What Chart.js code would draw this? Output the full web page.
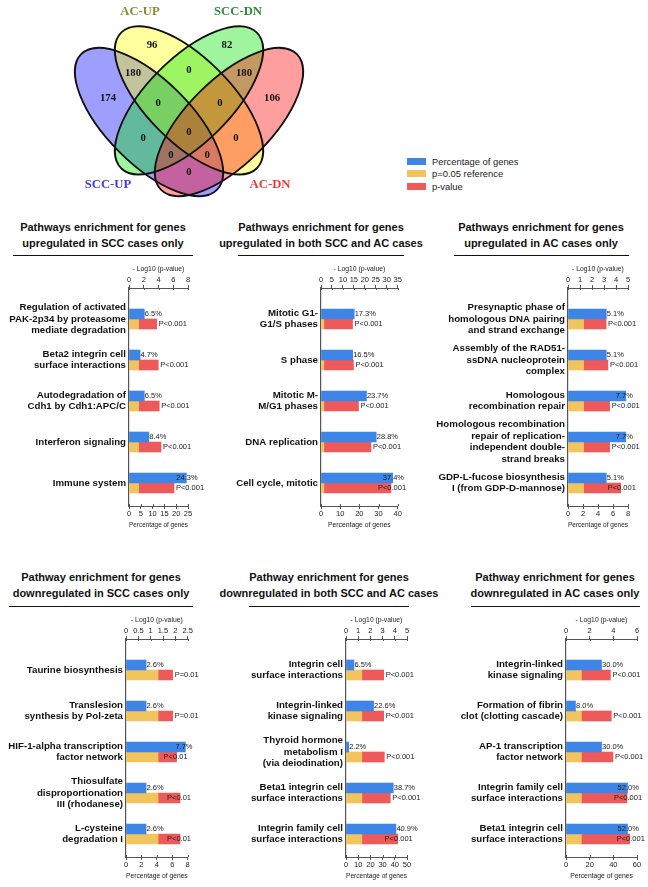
<!DOCTYPE html>
<html>
<head>
<meta charset="utf-8">
<title>Venn and pathway enrichment</title>
<script src="https://cdn.jsdelivr.net/npm/chart.js"></script>
<style>
    body { margin: 0; background: #fff; font-family: "Liberation Sans", Arial, sans-serif; }
    #page { position: relative; width: 648px; height: 887px; overflow: hidden; }
    canvas, .title, .rule, .legend { position: absolute; }
    .title { width: 240px; text-align: center; font-weight: bold; font-size: 11px; line-height: 16px; color: #111; white-space: nowrap; }
    .rule { height: 0; border-top: 1.5px solid #111; }
    .legend { left: 407px; top: 155px; font-size: 9.4px; color: #222; }
    .legend div { display: flex; align-items: center; height: 12.5px; white-space: nowrap; }
    .legend span { display: inline-block; width: 19px; height: 7px; margin-right: 6px; }
</style>
</head>
<body>
<div id="page">
    <canvas id="venn" width="330" height="210" style="left:0;top:0"></canvas>

    <div class="legend">
        <div><span style="background:#3d85e6"></span>Percentage of genes</div>
        <div><span style="background:#f2c45e"></span>p=0.05 reference</div>
        <div><span style="background:#ee5a5a"></span>p-value</div>
    </div>

    <div class="title" style="left:-17px;top:219px">Pathways enrichment for genes<br>upregulated in SCC cases only</div>
    <div class="title" style="left:201px;top:219px">Pathways enrichment for genes<br>upregulated in both SCC and AC cases</div>
    <div class="title" style="left:421px;top:219px">Pathways enrichment for genes<br>upregulated in AC cases only</div>
    <div class="title" style="left:-19px;top:569px">Pathway enrichment for genes<br>downregulated in SCC cases only</div>
    <div class="title" style="left:209px;top:569px">Pathway enrichment for genes<br>downregulated in both SCC and AC cases</div>
    <div class="title" style="left:435px;top:569px">Pathway enrichment for genes<br>downregulated in AC cases only</div>

    <div class="rule" style="left:13px;width:180px;top:255px"></div>
    <div class="rule" style="left:238px;width:166px;top:255px"></div>
    <div class="rule" style="left:454px;width:175px;top:255px"></div>
    <div class="rule" style="left:9px;width:184px;top:606px"></div>
    <div class="rule" style="left:249px;width:160px;top:606px"></div>
    <div class="rule" style="left:471px;width:169px;top:606px"></div>

    <canvas id="p1" width="216" height="270" style="left:0;top:261px"></canvas>
    <canvas id="p2" width="216" height="270" style="left:216px;top:261px"></canvas>
    <canvas id="p3" width="216" height="270" style="left:432px;top:261px"></canvas>
    <canvas id="p4" width="216" height="270" style="left:0;top:612px"></canvas>
    <canvas id="p5" width="216" height="270" style="left:216px;top:612px"></canvas>
    <canvas id="p6" width="216" height="270" style="left:432px;top:612px"></canvas>
</div>
<script>
    // ---- Venn counts ----
    var vennSetNames = ['AC-UP', 'SCC-DN', 'SCC-UP', 'AC-DN'];
    var vennCounts = [96, 82, 180, 180, 174, 106, 0, 0, 0, 0, 0, 0, 0, 0, 0];

    // where each count sits (unit square, y up)
    var vennCountPos = [
        [0.357, 0.767], [0.647, 0.767], [0.283, 0.658], [0.713, 0.658],
        [0.186, 0.561], [0.822, 0.561], [0.5, 0.670], [0.380, 0.542],
        [0.620, 0.542], [0.5, 0.429], [0.322, 0.406], [0.682, 0.406],
        [0.430, 0.340], [0.570, 0.340], [0.5, 0.274]
    ];
    var vennNamePos = [[0.310, 0.895], [0.690, 0.895], [0.186, 0.224], [0.814, 0.224]];
    var vennNameColor = ['#8c8c30', '#2f8c3a', '#3b3be6', '#e63b3b'];

    // ellipses: SCC-UP, AC-UP, SCC-DN, AC-DN
    var vennEllipses = [
        {cx: 0.345, cy: 0.468, a: 0.372, b: 0.163, rot: Math.PI / 4, fill: 'rgba(0,0,255,0.38)'},
        {cx: 0.50, cy: 0.552, a: 0.372, b: 0.163, rot: Math.PI / 4, fill: 'rgba(255,255,0,0.38)'},
        {cx: 0.50, cy: 0.552, a: 0.372, b: 0.163, rot: -Math.PI / 4, fill: 'rgba(0,230,0,0.38)'},
        {cx: 0.655, cy: 0.468, a: 0.372, b: 0.163, rot: -Math.PI / 4, fill: 'rgba(255,0,0,0.38)'}
    ];

    // ---- pathway panels ----
    var pRef = 1.3; // -log10(0.05)

    var sccUpPathways = [['Regulation of activated', 'PAK-2p34 by proteasome', 'mediate degradation'],
        ['Beta2 integrin cell', 'surface interactions'], ['Autodegradation of', 'Cdh1 by Cdh1:APC/C'],
        'Interferon signaling', 'Immune system'];
    var sccUpPct = [6.5, 4.7, 6.5, 8.4, 24.3];
    var sccUpLogP = [3.75, 3.97, 4.1, 4.34, 6.1];
    var sccUpPText = ['P<0.001', 'P<0.001', 'P<0.001', 'P<0.001', 'P<0.001'];

    var bothUpPathways = [['Mitotic G1-', 'G1/S phases'], 'S phase', ['Mitotic M-', 'M/G1 phases'],
        'DNA replication', 'Cell cycle, mitotic'];
    var bothUpPct = [17.3, 16.5, 23.7, 28.8, 37.4];
    var bothUpLogP = [14.4, 14.8, 17.1, 22.8, 31.9];
    var bothUpPText = ['P<0.001', 'P<0.001', 'P<0.001', 'P<0.001', 'P<0.001'];

    var acUpPathways = [['Presynaptic phase of', 'homologous DNA pairing', 'and strand exchange'],
        ['Assembly of the RAD51-', 'ssDNA nucleoprotein', 'complex'],
        ['Homologous', 'recombination repair'],
        ['Homologous recombination', 'repair of replication-', 'independent double-', 'strand breaks'],
        ['GDP-L-fucose biosynthesis', 'I (from GDP-D-mannose)']];
    var acUpPct = [5.1, 5.1, 7.7, 7.7, 5.1];
    var acUpLogP = [3.17, 3.33, 3.47, 3.47, 4.39];
    var acUpPText = ['P<0.001', 'P<0.001', 'P<0.001', 'P<0.001', 'P<0.001'];

    var sccDnPathways = ['Taurine biosynthesis', ['Translesion', 'synthesis by Pol-zeta'],
        ['HIF-1-alpha transcription', 'factor network'],
        ['Thiosulfate', 'disproportionation', 'III (rhodanese)'], ['L-cysteine', 'degradation I']];
    var sccDnPct = [2.6, 2.6, 7.7, 2.6, 2.6];
    var sccDnLogP = [1.89, 1.89, 2.05, 2.19, 2.19];
    var sccDnPText = ['P=0.01', 'P=0.01', 'P<0.01', 'P<0.01', 'P<0.01'];

    var bothDnPathways = [['Integrin cell', 'surface interactions'], ['Integrin-linked', 'kinase signaling'],
        ['Thyroid hormone', 'metabolism I', '(via deiodination)'],
        ['Beta1 integrin cell', 'surface interactions'], ['Integrin family cell', 'surface interactions']];
    var bothDnPct = [6.5, 22.6, 2.2, 38.7, 40.9];
    var bothDnLogP = [3.09, 3.09, 3.14, 3.63, 4.23];
    var bothDnPText = ['P<0.001', 'P<0.001', 'P<0.001', 'P<0.001', 'P<0.001'];

    var acDnPathways = [['Integrin-linked', 'kinase signaling'], ['Formation of fibrin', 'clot (clotting cascade)'],
        ['AP-1 transcription', 'factor network'], ['Integrin family cell', 'surface interactions'],
        ['Beta1 integrin cell', 'surface interactions']];
    var acDnPct = [30.0, 8.0, 30.0, 52.0, 52.0];
    var acDnLogP = [3.75, 3.83, 3.97, 5.15, 5.38];
    var acDnPText = ['P<0.001', 'P<0.001', 'P<0.001', 'P<0.001', 'P<0.001'];

    // axis ticks, panel order p1..p6
    var topAxisMax = [8, 35, 5, 2.5, 5, 6];
    var topAxisStep = [2, 5, 1, 0.5, 1, 2];
    var bottomAxisMax = [25, 40, 8, 8, 50, 60];
    var bottomAxisStep = [5, 10, 2, 2, 10, 20];

    // plot box inside each 216px wide canvas
    var axisLeft = [129, 105, 136, 126, 130, 134];
    var axisRight = [188, 181.7, 196, 187.7, 191, 205];

    var BLUE = '#3d85e6', YELLOW = '#f2c45e', RED = '#ee5a5a';
    var SANS = '"Liberation Sans", Arial, sans-serif';
    Chart.defaults.font.family = SANS;
    Chart.defaults.color = '#222';

    // Venn drawing
    const vennPlugin = {
        id: 'venn',
        beforeDatasetsDraw(chart) {
            const {ctx, scales: {x, y}} = chart;
            const k = x.getPixelForValue(1) - x.getPixelForValue(0);
            ctx.save();
            vennEllipses.forEach(e => {
                ctx.beginPath();
                ctx.ellipse(x.getPixelForValue(e.cx), y.getPixelForValue(e.cy), e.a * k, e.b * k, e.rot, 0, 2 * Math.PI);
                ctx.fillStyle = e.fill;
                ctx.fill();
            });
            ctx.lineWidth = 1.8;
            ctx.strokeStyle = '#111';
            vennEllipses.forEach(e => {
                ctx.beginPath();
                ctx.ellipse(x.getPixelForValue(e.cx), y.getPixelForValue(e.cy), e.a * k, e.b * k, e.rot, 0, 2 * Math.PI);
                ctx.stroke();
            });
            ctx.restore();
        },
        afterDatasetsDraw(chart) {
            const ctx = chart.ctx;
            ctx.save();
            ctx.textAlign = 'center';
            ctx.textBaseline = 'middle';
            ctx.fillStyle = '#111';
            ctx.font = 'bold 10.7px "Liberation Serif", "Times New Roman", serif';
            chart.getDatasetMeta(0).data.forEach((pt, i) => {
                ctx.fillText(String(vennCounts[i]), pt.x, pt.y);
            });
            ctx.font = 'bold 12.7px "Liberation Serif", "Times New Roman", serif';
            chart.getDatasetMeta(1).data.forEach((pt, i) => {
                ctx.fillStyle = vennNameColor[i];
                ctx.fillText(vennSetNames[i], pt.x, pt.y);
            });
            ctx.restore();
        }
    };

    new Chart(document.getElementById('venn'), {
        type: 'scatter',
        data: {
            datasets: [
                {data: vennCountPos.map(p => ({x: p[0], y: p[1]})), pointRadius: 0},
                {data: vennNamePos.map(p => ({x: p[0], y: p[1]})), pointRadius: 0}
            ]
        },
        options: {
            animation: false, responsive: false, events: [],
            layout: {padding: 0},
            plugins: {legend: {display: false}, tooltip: {enabled: false}},
            scales: {
                x: {type: 'linear', display: false, min: -0.2326, max: 1.0465},
                y: {type: 'linear', display: false, min: 0.1271, max: 0.9411}
            }
        },
        plugins: [vennPlugin]
    });

    // value labels next to the bars
    const barLabels = {
        id: 'barLabels',
        afterDatasetsDraw(chart, args, opts) {
            const ctx = chart.ctx;
            const xb = chart.scales.xb, xt = chart.scales.xt;
            ctx.save();
            ctx.font = '7.5px ' + SANS;
            ctx.fillStyle = '#222';
            ctx.textAlign = 'left';
            ctx.textBaseline = 'middle';
            chart.getDatasetMeta(0).data.forEach((bar, i) => {
                const v = chart.data.datasets[0].data[i].x;
                const x = v / xb.max > 0.85 ? bar.x - 10 : bar.x + 0.5;
                ctx.fillText(v.toFixed(1) + '%', x, bar.y);
            });
            chart.getDatasetMeta(2).data.forEach((bar, i) => {
                const v = chart.data.datasets[2].data[i].x[1];
                const x = v / xt.max > 0.8 ? bar.x - 13 : bar.x + 2;
                ctx.fillText(opts.texts[i], x, bar.y);
            });
            ctx.restore();
        }
    };

    // Prism style: tick marks also poke a little into the plot
    const innerTicks = {
        id: 'innerTicks',
        afterDraw(chart) {
            const ctx = chart.ctx;
            const area = chart.chartArea;
            ctx.save();
            ctx.strokeStyle = '#555';
            ctx.lineWidth = 1;
            ['xt', 'xb'].forEach(id => {
                const s = chart.scales[id];
                const y0 = id === 'xt' ? area.top : area.bottom;
                const dir = id === 'xt' ? 1 : -1;
                s.ticks.forEach(t => {
                    const px = Math.round(s.getPixelForValue(t.value)) + 0.5;
                    ctx.beginPath();
                    ctx.moveTo(px, y0);
                    ctx.lineTo(px, y0 + dir * 2);
                    ctx.stroke();
                });
            });
            ctx.restore();
        }
    };

    function tickText(v) {
        return String(+v.toFixed(2));
    }

    function makePanel(id, n, pathways, pct, logp, ptext) {
        const axisBorder = {display: true, color: '#555', width: 1};
        const tickFont = {size: 7.5, lineHeight: 1};
        new Chart(document.getElementById(id), {
            type: 'bar',
            data: {
                datasets: [
                    {label: 'Percentage of genes', data: pct.map((v, i) => ({x: v, y: i})),
                        xAxisID: 'xb', stack: 'pct', backgroundColor: BLUE},
                    {label: 'p=0.05 reference', data: logp.map((v, i) => ({x: pRef, y: i})),
                        xAxisID: 'xt', stack: 'p', backgroundColor: YELLOW},
                    {label: 'p-value', data: logp.map((v, i) => ({x: [pRef, v], y: i})),
                        xAxisID: 'xt', stack: 'p', backgroundColor: RED}
                ]
            },
            options: {
                indexAxis: 'y',
                animation: false, responsive: false, events: [],
                datasets: {bar: {barThickness: 10}},
                layout: {padding: {left: 0, top: 0, bottom: 0, right: 216 - axisRight[n]}},
                plugins: {legend: {display: false}, tooltip: {enabled: false}, barLabels: {texts: ptext}},
                scales: {
                    y: {
                        type: 'linear', reverse: true, offset: false, min: -31 / 41, max: 4 + 23 / 41,
                        afterBuildTicks: s => { s.ticks = pathways.map((p, i) => ({value: i})); },
                        afterFit: s => { s.width = axisLeft[n]; },
                        grid: {display: false, drawTicks: false, offset: false},
                        border: {display: true, color: '#555', width: 1.2},
                        ticks: {autoSkip: false, padding: 3, color: '#111',
                            font: {size: 9.7, weight: 'bold', lineHeight: 1.2},
                            callback: v => pathways[v]}
                    },
                    xt: {
                        type: 'linear', position: 'top', min: 0, max: topAxisMax[n], stacked: false,
                        afterFit: s => { s.height = 27; },
                        grid: {drawOnChartArea: false, tickLength: 3, color: '#555'},
                        border: axisBorder,
                        ticks: {stepSize: topAxisStep[n], autoSkip: false, maxRotation: 0, minRotation: 0,
                            padding: 1.2, font: tickFont, callback: tickText},
                        title: {display: true, text: '- Log10 (p-value)', font: {size: 6.8, lineHeight: 1}, padding: {top: 5, bottom: 0}}
                    },
                    xb: {
                        type: 'linear', position: 'bottom', min: 0, max: bottomAxisMax[n],
                        afterFit: s => { s.height = 25; },
                        grid: {drawOnChartArea: false, tickLength: 3, color: '#555'},
                        border: axisBorder,
                        ticks: {stepSize: bottomAxisStep[n], autoSkip: false, maxRotation: 0, minRotation: 0,
                            padding: 1, font: tickFont, callback: tickText},
                        title: {display: true, text: 'Percentage of genes', font: {size: 6.8, lineHeight: 1}, padding: {top: 0, bottom: 2}}
                    }
                }
            },
            plugins: [barLabels, innerTicks]
        });
    }

    makePanel('p1', 0, sccUpPathways, sccUpPct, sccUpLogP, sccUpPText);
    makePanel('p2', 1, bothUpPathways, bothUpPct, bothUpLogP, bothUpPText);
    makePanel('p3', 2, acUpPathways, acUpPct, acUpLogP, acUpPText);
    makePanel('p4', 3, sccDnPathways, sccDnPct, sccDnLogP, sccDnPText);
    makePanel('p5', 4, bothDnPathways, bothDnPct, bothDnLogP, bothDnPText);
    makePanel('p6', 5, acDnPathways, acDnPct, acDnLogP, acDnPText);
</script>
</body>
</html>
